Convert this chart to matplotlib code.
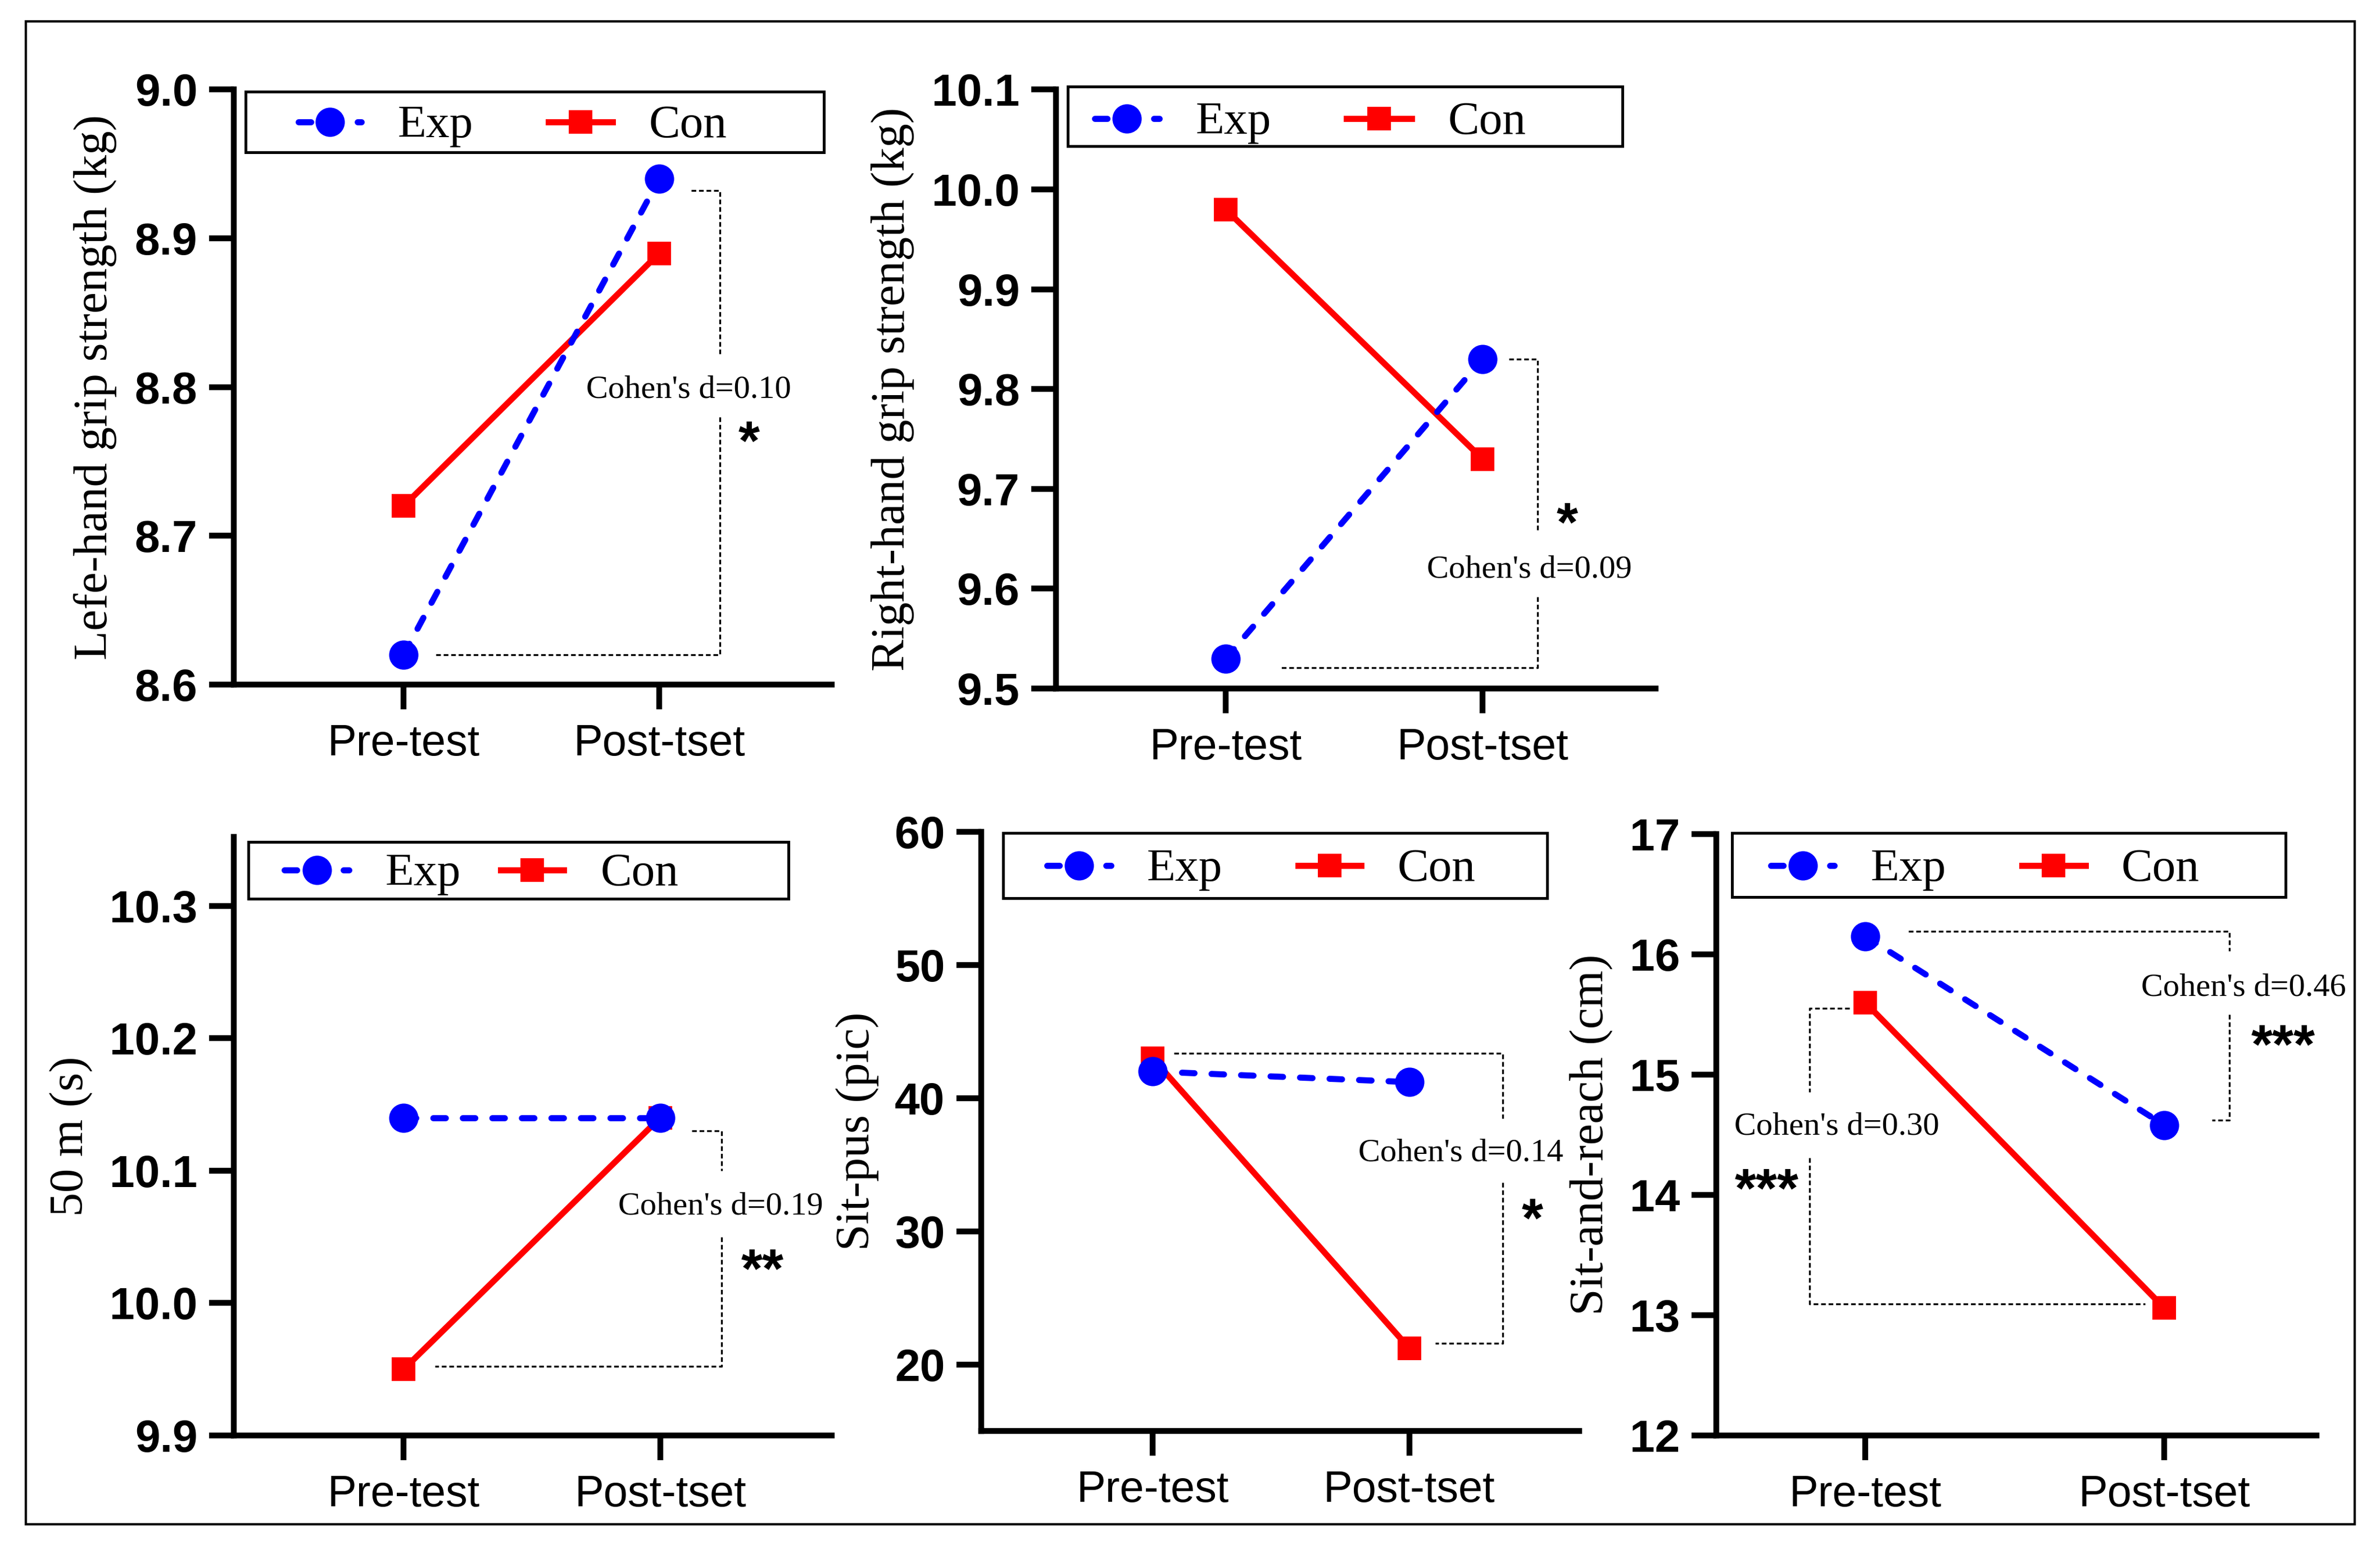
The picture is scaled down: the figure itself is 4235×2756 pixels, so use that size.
import matplotlib
matplotlib.use('Agg')
import matplotlib.pyplot as plt
from matplotlib.patches import Rectangle

# ---------------- data ----------------
categories = ['Pre-test', 'Post-tset']
series_names = ['Exp', 'Con']

left_grip_exp = [8.62, 8.94]
left_grip_con = [8.72, 8.89]
right_grip_exp = [9.53, 9.83]
right_grip_con = [9.98, 9.73]
run50_exp = [10.14, 10.14]
run50_con = [9.95, 10.14]
situp_exp = [42.0, 41.2]
situp_con = [43.0, 21.2]
reach_exp = [16.15, 14.58]
reach_con = [15.60, 13.06]

ylabels = ['Lefe-hand grip strength (kg)', 'Right-hand grip strength (kg)',
           '50 m (s)', 'Sit-pus (pic)', 'Sit-and-reach (cm)']

left_grip_ticks = [8.6, 8.7, 8.8, 8.9, 9.0]
right_grip_ticks = [9.5, 9.6, 9.7, 9.8, 9.9, 10.0, 10.1]
run50_ticks = [9.9, 10.0, 10.1, 10.2, 10.3]
situp_ticks = [20, 30, 40, 50, 60]
reach_ticks = [12, 13, 14, 15, 16, 17]

effect_left_grip = ["Cohen's d=0.10"]
effect_right_grip = ["Cohen's d=0.09"]
effect_run50 = ["Cohen's d=0.19"]
effect_situp = ["Cohen's d=0.14"]
effect_reach = ["Cohen's d=0.46", "Cohen's d=0.30"]
stars_left_grip = ['*']
stars_right_grip = ['*']
stars_run50 = ['**']
stars_situp = ['*']
stars_reach = ['***', '***']

# ---------------- style ----------------
SERIF = ['Liberation Serif', 'DejaVu Serif']
SANS = ['Liberation Sans', 'DejaVu Sans']
plt.rcParams['font.family'] = SANS
BLUE = '#0000FF'
RED = '#FF0000'
DPI = 300
fig = plt.figure(figsize=(4235 / DPI, 2756 / DPI), dpi=DPI)

fig.add_artist(Rectangle((0.01086, 0.01597), 0.97851, 0.97024, transform=fig.transFigure,
                         fill=False, lw=1.0, ec='black'))

panels = [
    dict(exp=left_grip_exp, con=left_grip_con, ticks=left_grip_ticks, fmt='{:.1f}', ylabel=ylabels[0],
         rect=[0.09823, 0.55806, 0.25124, 0.38407], xlim=(-0.664, 1.675), ylim=(8.6, 9.0), ylab_x=-0.232,
         leg=dict(box=(0.020, 0.895, 0.9865, 0.9966), eh=(0.108, 0.213), et=0.274, ch=(0.526, 0.633), ct=0.694, yc=0.946),
         brackets=[[[(1.126, 8.932), (1.238, 8.932), (1.238, 8.822)], [(1.238, 8.780), (1.238, 8.62), (0.122, 8.62)]]],
         effects=effect_left_grip, eff_pos=[(1.116, 8.800)], stars=stars_left_grip, star_pos=[(1.352, 8.773)]),
    dict(exp=right_grip_exp, con=right_grip_con, ticks=right_grip_ticks, fmt='{:.1f}', ylabel=ylabels[1],
         rect=[0.44368, 0.55552, 0.25195, 0.38661], xlim=(-0.661, 1.674), ylim=(9.5, 10.1), ylab_x=-0.272,
         leg=dict(box=(0.0197, 0.906, 0.9445, 1.005), eh=(0.065, 0.172), et=0.233, ch=(0.485, 0.593), ct=0.654, yc=0.952),
         brackets=[[[(1.103, 9.830), (1.214, 9.830), (1.214, 9.656)], [(1.214, 9.592), (1.214, 9.521), (0.212, 9.521)]]],
         effects=effect_right_grip, eff_pos=[(1.182, 9.622)], stars=stars_right_grip, star_pos=[(1.329, 9.680)]),
    dict(exp=run50_exp, con=run50_con, ticks=run50_ticks, fmt='{:.1f}', ylabel=ylabels[2],
         rect=[0.09823, 0.07329, 0.25124, 0.38643], xlim=(-0.662, 1.668), ylim=(9.9, 10.352), ylab_x=-0.272,
         leg=dict(box=(0.0242, 0.897, 0.928, 0.992), eh=(0.085, 0.193), et=0.253, ch=(0.446, 0.552), ct=0.613, yc=0.945),
         brackets=[[[(1.123, 10.130), (1.238, 10.130), (1.238, 10.100)], [(1.238, 10.050), (1.238, 9.952), (0.121, 9.952)]]],
         effects=effect_run50, eff_pos=[(1.234, 10.075)], stars=stars_run50, star_pos=[(1.397, 10.036)]),
    dict(exp=situp_exp, con=situp_con, ticks=situp_ticks, fmt='{:d}', ylabel=ylabels[3],
         rect=[0.41228, 0.0762, 0.25124, 0.3868], xlim=(-0.667, 1.661), ylim=(15, 60), ylab_x=-0.207,
         leg=dict(box=(0.0367, 0.8895, 0.946, 0.998), eh=(0.110, 0.217), et=0.277, ch=(0.530, 0.635), ct=0.696, yc=0.944),
         brackets=[[[(0.084, 43.35), (1.363, 43.35), (1.363, 38.48)], [(1.363, 33.65), (1.363, 21.57), (1.101, 21.57)]]],
         effects=effect_situp, eff_pos=[(1.199, 36.1)], stars=stars_situp, star_pos=[(1.478, 32.0)]),
    dict(exp=reach_exp, con=reach_con, ticks=reach_ticks, fmt='{:d}', ylabel=ylabels[4],
         rect=[0.72113, 0.07329, 0.25219, 0.38825], xlim=(-0.498, 1.509), ylim=(12, 17), ylab_x=-0.208,
         leg=dict(box=(0.0265, 0.895, 0.9488, 1.002), eh=(0.0905, 0.197), et=0.257, ch=(0.509, 0.615), ct=0.675, yc=0.948),
         brackets=[[[(0.145, 16.19), (1.217, 16.19), (1.217, 16.03)], [(1.217, 15.50), (1.217, 14.62), (1.160, 14.62)]],
                   [[(-0.053, 15.55), (-0.186, 15.55), (-0.186, 14.854)], [(-0.186, 14.308), (-0.186, 13.093), (0.936, 13.093)]]],
         effects=effect_reach, eff_pos=[(1.265, 15.745), (-0.095, 14.59)], stars=stars_reach,
         star_pos=[(1.398, 15.36), (-0.329, 14.166)]),
]

LW = 2.6
EXP_DASH = (2.05, 2.8)
LEG_FS = 20
EFF_FS = 14
STAR_FS = 23.5
MS_CIRCLE = 12.5
MS_SQUARE = 10.3

for p in panels:
    ax = fig.add_axes(p['rect'])
    ax.patch.set_visible(False)
    xs = list(range(len(categories)))
    ax.plot(xs, p['con'], color=RED, lw=LW, marker='s', ms=MS_SQUARE, mfc=RED, mec=RED, mew=0,
            clip_on=False, zorder=3)
    ax.plot(xs, p['exp'], color=BLUE, lw=LW, marker='o', ms=MS_CIRCLE, mfc=BLUE, mec=BLUE, mew=0,
            dashes=EXP_DASH, dash_capstyle='round', clip_on=False, zorder=4)

    # brackets
    for br in p['brackets']:
        for seg in br:
            bx = [q[0] for q in seg]
            by = [q[1] for q in seg]
            ax.plot(bx, by, color='black', lw=0.8, dashes=(2.5, 1.5), clip_on=False, zorder=2)
    for txt, (tx, ty) in zip(p['effects'], p['eff_pos']):
        ax.annotate(txt, xy=(tx, ty), xytext=(0, -0.33 * EFF_FS), textcoords='offset points',
                    ha='center', va='baseline', fontsize=EFF_FS, family=SERIF, annotation_clip=False)
    for st, (sx, sy) in zip(p['stars'], p['star_pos']):
        ax.annotate(st, xy=(sx, sy), xytext=(0, -0.58 * STAR_FS), textcoords='offset points',
                    ha='center', va='baseline', fontsize=STAR_FS, fontweight='bold', family=SANS,
                    annotation_clip=False)

    # legend (drawn manually in axes coordinates)
    lg = p['leg']
    b = lg['box']
    ax.add_patch(Rectangle((b[0], b[1]), b[2] - b[0], b[3] - b[1], transform=ax.transAxes,
                           fill=False, lw=1.2, ec='black', clip_on=False, zorder=5))
    yc = lg['yc']
    ax.plot(lg['eh'], [yc, yc], transform=ax.transAxes, color=BLUE, lw=LW, dashes=EXP_DASH,
            dash_capstyle='round', clip_on=False, zorder=5)
    ax.plot([(lg['eh'][0] + lg['eh'][1]) / 2], [yc], transform=ax.transAxes, marker='o', ms=MS_CIRCLE,
            mew=0, color=BLUE, clip_on=False, zorder=6)
    ax.plot(lg['ch'], [yc, yc], transform=ax.transAxes, color=RED, lw=LW, clip_on=False, zorder=5)
    ax.plot([(lg['ch'][0] + lg['ch'][1]) / 2], [yc], transform=ax.transAxes, marker='s', ms=MS_SQUARE,
            mew=0, color=RED, clip_on=False, zorder=6)
    for name, tx in zip(series_names, [lg['et'], lg['ct']]):
        ax.annotate(name, xy=(tx, yc), xycoords='axes fraction', xytext=(0, -0.331 * LEG_FS),
                    textcoords='offset points', ha='left', va='baseline', fontsize=LEG_FS, family=SERIF,
                    annotation_clip=False)

    # axes styling
    ax.set_xlim(*p['xlim'])
    ax.set_ylim(*p['ylim'])
    for s in ['top', 'right']:
        ax.spines[s].set_visible(False)
    for s in ['left', 'bottom']:
        ax.spines[s].set_linewidth(2.5)
        ax.spines[s].set_capstyle('projecting')
    ax.set_xticks(xs)
    ax.set_xticklabels(categories, fontsize=18.6, family=SANS)
    ax.set_yticks(p['ticks'])
    ax.set_yticklabels([p['fmt'].format(v) for v in p['ticks']], fontsize=19.3, fontweight='bold', family=SANS)
    ax.tick_params(axis='both', direction='out', length=10.5, width=2.5, color='black')
    ax.tick_params(axis='y', pad=5)
    ax.tick_params(axis='x', pad=6)
    ax.text(p['ylab_x'], 0.5, p['ylabel'], transform=ax.transAxes, rotation=90, ha='center', va='center',
            fontsize=20.5, family=SERIF)

fig.savefig('out.png', dpi=DPI)
